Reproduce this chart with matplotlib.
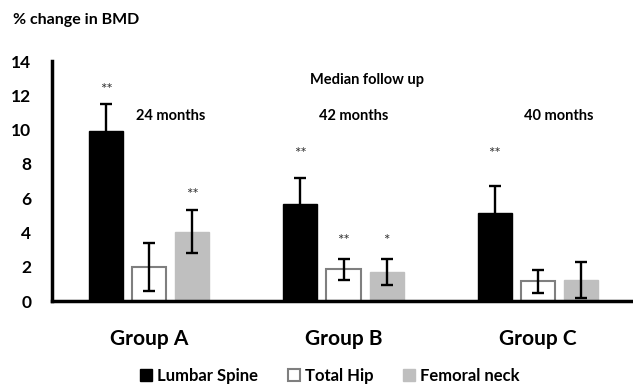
import matplotlib
matplotlib.use("Agg")
import matplotlib.pyplot as plt
from matplotlib.patches import Patch
import numpy as np

plt.rcParams["font.family"] = ["Lato", "DejaVu Sans"]

groups = ["Group A", "Group B", "Group C"]
follow_up = ["24 months", "42 months", "40 months"]

lumbar_spine = [9.9, 5.65, 5.15]
lumbar_spine_err = [1.6, 1.55, 1.55]
total_hip = [2.0, 1.85, 1.15]
total_hip_err = [1.4, 0.62, 0.67]
femoral_neck = [4.05, 1.7, 1.25]
femoral_neck_err = [1.25, 0.75, 1.05]

# significance markers: (group index, series index, label, height)
sig_marks = [
    (0, 0, "**", 12.3),
    (0, 2, "**", 6.2),
    (1, 0, "**", 8.6),
    (1, 1, "**", 3.5),
    (1, 2, "*", 3.5),
    (2, 0, "**", 8.6),
]

series = [
    ("Lumbar Spine", lumbar_spine, lumbar_spine_err,
     dict(facecolor="black", edgecolor="black")),
    ("Total Hip", total_hip, total_hip_err,
     dict(facecolor="white", edgecolor="#7f7f7f", linewidth=1.5)),
    ("Femoral neck", femoral_neck, femoral_neck_err,
     dict(facecolor="#bfbfbf", edgecolor="#bfbfbf")),
]

fig = plt.figure(figsize=(6.33, 3.86), dpi=100)
ax = fig.add_axes([52 / 633, 85 / 386, 583 / 633, 240 / 386])

x = np.arange(len(groups))
offsets = [-0.222, 0.0, 0.222]
width = 0.176

for (name, vals, errs, style), off in zip(series, offsets):
    ax.bar(x + off, vals, width, label=name, zorder=2, **style)
    ax.errorbar(x + off, vals, yerr=errs, fmt="none", ecolor="black",
                elinewidth=1.7, capsize=4.5, capthick=1.7, zorder=3)

for g, s, lab, h in sig_marks:
    ax.text(x[g] + offsets[s], h, lab, ha="center", va="center",
            fontsize=11, color="#333333")

ax.set_xlim(-0.5, 2.5)
ax.set_ylim(0, 14)
ax.set_yticks(range(0, 15, 2))
ax.tick_params(axis="y", length=0, pad=15, labelsize=12.5)
for lbl in ax.get_yticklabels():
    lbl.set_fontweight("bold")
ax.set_xticks(x)
ax.set_xticklabels(groups, fontsize=15, fontweight="bold")
ax.tick_params(axis="x", length=0, pad=20)

for side in ["top", "right"]:
    ax.spines[side].set_visible(False)
ax.spines["left"].set_linewidth(2.5)
ax.spines["bottom"].set_linewidth(2.5)

# follow-up annotations
ax.text(1.12, 12.9, "Median follow up", ha="center", va="center",
        fontsize=10.5, fontweight="bold")
month_x = [0.11, 1.05, 2.11]
for mx, txt in zip(month_x, follow_up):
    ax.text(mx, 10.8, txt, ha="center", va="center",
            fontsize=10.5, fontweight="bold")

fig.text(13 / 633, 1 - 20 / 386, "% change in BMD", ha="left",
         va="center", fontsize=11.5, fontweight="bold")

handles = [Patch(label=name, **style) for name, _, _, style in series]
fig.legend(handles=handles, loc="center", bbox_to_anchor=(330 / 633, 1 - 376 / 386),
           ncol=3, frameon=False, handlelength=0.7, handleheight=0.7,
           handletextpad=0.3, columnspacing=1.8,
           prop=dict(size=12, weight="bold"))

fig.savefig("out.png", dpi=100)
